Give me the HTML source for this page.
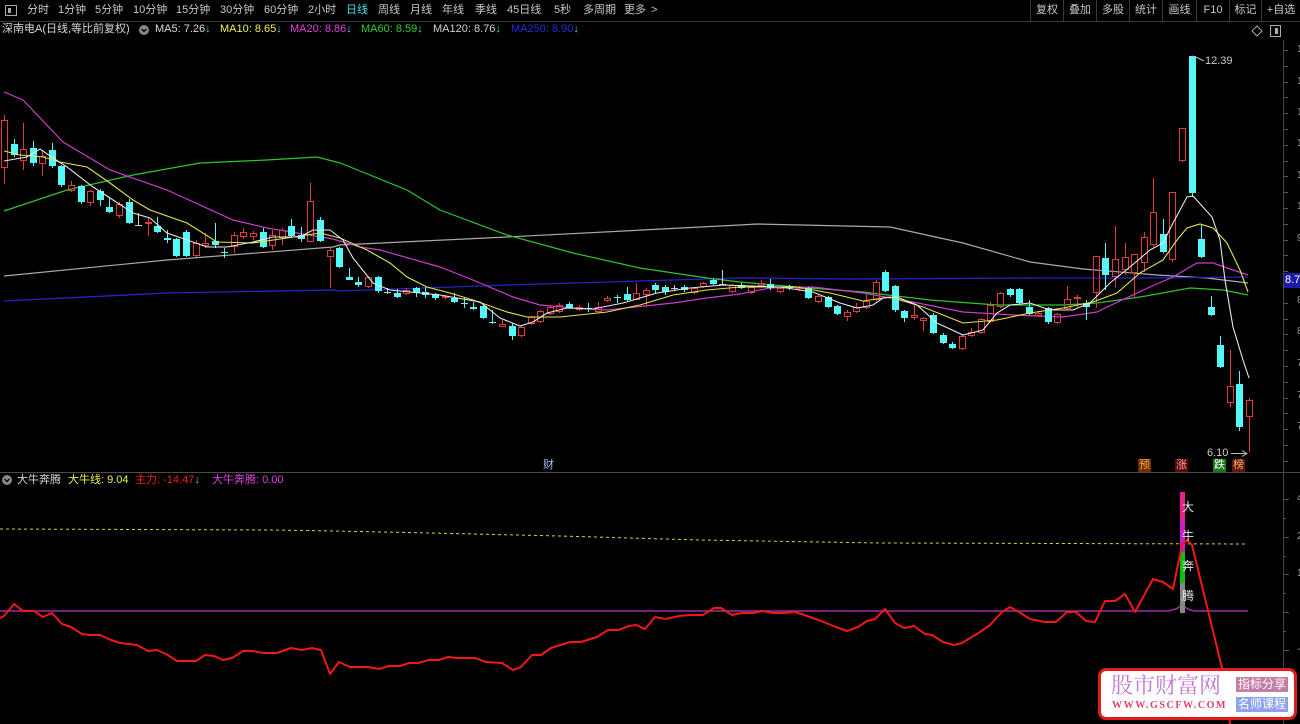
<!DOCTYPE html>
<html><head><meta charset="utf-8">
<style>
html,body{margin:0;padding:0;background:#000;}
body{width:1300px;height:724px;overflow:hidden;position:relative;font-family:"Liberation Sans","Noto Sans CJK SC",sans-serif;}
.t{position:absolute;white-space:nowrap;font-size:11px;line-height:13px;color:#c8c8c8;}
.bt{position:absolute;top:4px;font-size:11px;line-height:13px;color:#c8c8c8;text-align:center;white-space:nowrap;}
.mk{position:absolute;width:13px;height:13px;font-size:11px;line-height:13px;text-align:center;}
.ax{position:absolute;left:1297px;font-size:10px;line-height:10px;color:#999;white-space:nowrap;}
</style></head><body>
<svg id="s" width="1300" height="724" style="position:absolute;left:0;top:0" xmlns="http://www.w3.org/2000/svg">
<!-- toolbar -->
<line x1="0" y1="21.5" x2="1300" y2="21.5" stroke="#3a3a3a"/>
<rect x="5.5" y="5.5" width="11" height="10" fill="none" stroke="#aaa"/>
<rect x="8" y="8" width="3" height="5" fill="#aaa"/>
<g stroke="#3a3a3a">
<line x1="1030.5" y1="0" x2="1030.5" y2="21"/><line x1="1063.5" y1="0" x2="1063.5" y2="21"/>
<line x1="1096.5" y1="0" x2="1096.5" y2="21"/><line x1="1129.5" y1="0" x2="1129.5" y2="21"/>
<line x1="1162.5" y1="0" x2="1162.5" y2="21"/><line x1="1196.5" y1="0" x2="1196.5" y2="21"/>
<line x1="1229.5" y1="0" x2="1229.5" y2="21"/><line x1="1261.5" y1="0" x2="1261.5" y2="21"/>
</g>
<!-- legend icons -->
<circle cx="144" cy="30" r="5" fill="#888"/><path d="M141.5 29 L144 31.5 L146.5 29" stroke="#000" stroke-width="1.3" fill="none"/>
<circle cx="7" cy="480" r="5" fill="#888"/><path d="M4.5 479 L7 481.5 L9.5 479" stroke="#000" stroke-width="1.3" fill="none"/>
<path d="M1257 26 L1262 31 L1257 36 L1252 31 Z" fill="none" stroke="#aaa"/>
<rect x="1270.5" y="25.5" width="10" height="11" fill="none" stroke="#aaa"/><rect x="1275" y="28" width="3" height="6" fill="#aaa"/>
<!-- axes -->
<line x1="1283.5" y1="40" x2="1283.5" y2="724" stroke="#444"/>
<line x1="0" y1="472.5" x2="1300" y2="472.5" stroke="#4a4a4a"/>
<g id="ticks" stroke="#555"></g>
<!-- MAs -->
<polyline fill="none" stroke="#aaaaaa" stroke-width="1.2" points="4,276 167,260 333,247 340,245 507,237 740,225 757,224 890,227 963,243 1030,262 1083,269 1157,275 1207,278 1248,283"/>
<polyline fill="none" stroke="#2424c8" stroke-width="1.3" points="4,301 167,293 333,290 340,291 507,285 740,278 850,279 1040,278 1150,278 1248,277"/>
<polyline fill="none" stroke="#2fc42f" stroke-width="1.2" points="4,211 67,190 133,175 200,163 267,160 317,157 340,163 360,171 407,190 440,210 507,235 573,253 640,268 707,278 740,282 797,287 863,292 930,300 997,305 1063,305 1097,303 1140,297 1190,288 1223,290 1248,295"/>
<polyline fill="none" stroke="#cc3ccc" stroke-width="1.2" points="4,92 23,100 63,142 110,170 167,190 233,220 267,228 333,239 360,247 380,250 440,267 473,280 513,297 540,305 573,308 607,310 673,303 707,298 740,294 770,288 813,287 863,293 913,302 963,312 1013,315 1063,317 1097,312 1107,307 1150,287 1173,277 1197,263 1213,263 1233,270 1248,275"/>
<g id="candles"></g>
<polyline fill="none" stroke="#e6e64a" stroke-width="1.1" points="4,151 20,155 43,157 60,162 87,167 110,183 133,200 150,210 187,223 217,242 253,243 287,238 320,233 340,238 367,250 390,263 407,277 427,287 450,293 473,300 507,312 527,317 560,317 607,312 640,305 673,295 707,290 740,287 797,287 830,293 863,301 890,297 923,307 963,323 997,320 1030,313 1063,308 1093,302 1117,293 1140,273 1163,260 1177,240 1187,228 1200,224 1213,228 1227,243 1240,270 1248,292"/>
<polyline fill="none" stroke="#e8e8e8" stroke-width="1.1" points="4,161 27,157 40,149 53,158 67,167 93,187 110,198 133,213 150,218 167,233 187,240 207,247 227,247 253,242 273,237 300,237 313,230 330,230 343,240 353,258 373,283 390,290 440,295 480,302 500,318 520,326 533,322 547,313 567,308 593,309 623,303 657,293 690,288 723,285 780,287 813,292 840,303 857,308 873,305 883,298 897,297 917,305 937,323 963,335 983,330 997,313 1010,305 1030,303 1050,310 1073,310 1090,303 1110,283 1130,267 1150,250 1163,243 1173,223 1187,197 1193,196 1212,217 1220,240 1225,280 1233,327 1243,360 1249,378"/>
<!-- annotations -->
<polyline fill="none" stroke="#bbb" points="1192,56 1198,58 1204,61"/>
<line x1="1231" y1="453.5" x2="1246" y2="453.5" stroke="#bbb"/><path d="M1242 450.5 L1247 453.5 L1242 456.5" fill="none" stroke="#bbb"/>
<!-- indicator -->
<polyline fill="none" stroke="#d6d640" stroke-width="1" stroke-dasharray="3,3" points="0,529 270,530 335,531 430,533 560,536 700,540 880,543 1248,544"/>
<polyline fill="none" stroke="#a42aa4" stroke-width="1.5" points="0,611 1168,611 1176,609 1182,605 1188,609 1194,611 1248,611"/>
<rect x="1180" y="492" width="5" height="30" fill="#e8208c"/>
<rect x="1180" y="522" width="5" height="30" fill="#c81ec8"/>
<rect x="1180" y="552" width="5" height="31" fill="#10c010"/>
<rect x="1180" y="583" width="5" height="30" fill="#888"/>
<polyline fill="none" stroke="#f01818" stroke-width="2" stroke-linejoin="round" points="0,618 4,616 14,604 23,611 34,611 43,617 52,613 62,624 71,627 82,634 89,635 100,635 111,640 120,643 137,645 148,651 157,650 166,654 177,661 196,661 205,655 214,656 223,660 232,658 243,651 252,651 264,653 277,653 291,648 302,650 312,648 321,650 330,674 339,662 350,667 368,667 379,669 389,666 400,666 409,663 418,663 429,660 439,660 448,657 457,658 475,658 486,662 502,663 513,670 521,667 532,655 541,655 551,648 570,642 581,642 597,637 608,630 618,630 629,626 636,625 645,629 655,617 666,619 679,616 690,615 703,615 714,608 721,608 732,615 742,613 753,613 762,611 773,613 784,613 795,612 810,617 821,621 836,627 847,631 858,627 867,621 875,619 885,609 895,623 904,628 914,626 925,634 932,635 943,642 954,645 962,643 980,632 990,625 1002,612 1010,607 1019,612 1030,619 1045,622 1056,622 1067,612 1076,612 1086,621 1095,622 1105,601 1115,601 1125,594 1135,612 1153,579 1163,582 1173,589 1182,545 1187,540 1192,545 1222,668 1230,724"/>
</svg>

<!-- toolbar text -->
<div class="t" style="left:27px;top:4px">分时</div>
<div class="t" style="left:58px;top:4px">1分钟</div>
<div class="t" style="left:95px;top:4px">5分钟</div>
<div class="t" style="left:133px;top:4px">10分钟</div>
<div class="t" style="left:176px;top:4px">15分钟</div>
<div class="t" style="left:220px;top:4px">30分钟</div>
<div class="t" style="left:264px;top:4px">60分钟</div>
<div class="t" style="left:308px;top:4px">2小时</div>
<div class="t" style="left:346px;top:4px;color:#40e0e8">日线</div>
<div class="t" style="left:378px;top:4px">周线</div>
<div class="t" style="left:410px;top:4px">月线</div>
<div class="t" style="left:442px;top:4px">年线</div>
<div class="t" style="left:475px;top:4px">季线</div>
<div class="t" style="left:507px;top:4px">45日线</div>
<div class="t" style="left:554px;top:4px">5秒</div>
<div class="t" style="left:583px;top:4px">多周期</div>
<div class="t" style="left:624px;top:4px">更多</div>
<div class="t" style="left:651px;top:4px">&gt;</div>
<div class="bt" style="left:1031px;width:32px">复权</div>
<div class="bt" style="left:1064px;width:32px">叠加</div>
<div class="bt" style="left:1097px;width:32px">多股</div>
<div class="bt" style="left:1130px;width:32px">统计</div>
<div class="bt" style="left:1163px;width:33px">画线</div>
<div class="bt" style="left:1197px;width:32px">F10</div>
<div class="bt" style="left:1230px;width:31px">标记</div>
<div class="bt" style="left:1262px;width:38px">+自选</div>

<!-- legend row -->
<div class="t" style="left:2px;top:23px;color:#d8d8d8">深南电A(日线,等比前复权)</div>
<div class="t" style="left:155px;top:23px;color:#dcdcdc">MA5: 7.26<span style="color:#40e0f0">↓</span></div>
<div class="t" style="left:220px;top:23px;color:#f0f050">MA10: 8.65<span style="color:#40e0f0">↓</span></div>
<div class="t" style="left:290px;top:23px;color:#e040e0">MA20: 8.86<span style="color:#40e0f0">↓</span></div>
<div class="t" style="left:361px;top:23px;color:#30d030">MA60: 8.59<span style="color:#40e0f0">↓</span></div>
<div class="t" style="left:433px;top:23px;color:#d0d0d0">MA120: 8.76<span style="color:#40e0f0">↓</span></div>
<div class="t" style="left:511px;top:23px;color:#2828d8">MA250: 8.90<span style="color:#40e0f0">↓</span></div>

<!-- price annotations -->
<div class="t" style="left:1205px;top:55px;color:#ccc">12.39</div>
<div class="t" style="left:1207px;top:447px;color:#ccc">6.10</div>
<div style="position:absolute;left:1284px;top:273px;width:16px;height:15px;background:#1c1ca8;color:#fff;font-size:11px;line-height:15px;padding-left:1px;overflow:hidden;white-space:nowrap">8.7</div>

<!-- axis label fragments -->
<div class="ax" style="top:45px">12.5</div>
<div class="ax" style="top:77px">11.9</div>
<div class="ax" style="top:108px">11.4</div>
<div class="ax" style="top:139px">10.9</div>
<div class="ax" style="top:171px">10.4</div>
<div class="ax" style="top:202px">10.0</div>
<div class="ax" style="top:234px">9.55</div>
<div class="ax" style="top:296px">8.71</div>
<div class="ax" style="top:327px">8.32</div>
<div class="ax" style="top:359px">7.94</div>
<div class="ax" style="top:391px">7.58</div>
<div class="ax" style="top:422px">7.24</div>
<div class="ax" style="top:494px">40.0</div>
<div class="ax" style="top:532px">20.0</div>
<div class="ax" style="top:569px">10.0</div>
<div class="ax" style="top:645px">-10.0</div>

<!-- markers -->
<div class="mk" style="left:542px;top:459px;color:#a8c0ff">财</div>
<div class="mk" style="left:1138px;top:459px;background:#6a3000;color:#ffa040">预</div>
<div class="mk" style="left:1175px;top:459px;background:#5a0c0c;color:#ff9c9c">涨</div>
<div class="mk" style="left:1213px;top:459px;background:#187818;color:#ffffff">跌</div>
<div class="mk" style="left:1232px;top:459px;background:#5a1a0a;color:#ffb070">榜</div>

<!-- indicator header -->
<div class="t" style="left:17px;top:474px;color:#d8d8d8">大牛奔腾</div>
<div class="t" style="left:68px;top:474px;color:#f0f050">大牛线: 9.04</div>
<div class="t" style="left:135px;top:474px;color:#f02020">主力: -14.47<span style="color:#40e0f0">↓</span></div>
<div class="t" style="left:212px;top:474px;color:#e040e0">大牛奔腾: 0.00</div>

<!-- bar text -->
<div class="t" style="left:1182px;top:501px;font-size:12px;color:#e8e8e8">大</div>
<div class="t" style="left:1182px;top:530px;font-size:12px;color:#e8e8e8">牛</div>
<div class="t" style="left:1182px;top:560px;font-size:12px;color:#e8e8e8">奔</div>
<div class="t" style="left:1182px;top:590px;font-size:12px;color:#e8e8e8">腾</div>

<!-- watermark -->
<div style="position:absolute;left:1098px;top:668px;width:193px;height:46px;background:#fff;border:3px solid #e01c1c;border-radius:8px"></div>
<div style="position:absolute;left:1111px;top:673px;font-family:'Liberation Serif','Noto Serif CJK SC',serif;font-size:22px;line-height:26px;color:#c27ad0;white-space:nowrap">股市财富网</div>
<div style="position:absolute;left:1112px;top:700px;font-family:'Liberation Serif',serif;font-weight:bold;font-size:10px;line-height:12px;letter-spacing:1.6px;color:#e0406a;white-space:nowrap">WWW.GSCFW.COM</div>
<div style="position:absolute;left:1236px;top:677px;width:52px;height:15px;background:#c47ea4;color:#fff;font-size:12px;line-height:15px;text-align:center;white-space:nowrap">指标分享</div>
<div style="position:absolute;left:1236px;top:697px;width:52px;height:15px;background:#8ca2ee;color:#fff;font-size:12px;line-height:15px;text-align:center;white-space:nowrap">名师课程</div>

<script>
(function(){
var C=[
['r',120,168,115,184],['c',144,155,139,157],['r',149,161,123,170],['c',148,163,141,166],['r',156,164,150,176],
['c',150,166,143,168],['c',166,185,165,187],['r',185,191,181,192],['c',186,202,185,204],['r',191,203,190,206],
['c',191,200,189,206],['c',207,212,198,213],['r',204,216,202,218],['c',202,223,199,224],['g',225,226,213,226],
['r',222,224,217,236],['c',226,232,217,233],['c',238,240,230,243],['c',239,256,238,257],['c',232,256,230,257],
['r',243,256,240,257],['r',243,246,233,248],['c',241,245,223,248],['c',252,253,248,258],['r',235,247,232,253],
['r',232,237,228,239],['r',233,237,231,240],['c',232,247,228,248],['r',235,246,230,250],['r',230,238,228,245],
['c',226,236,219,237],['c',235,239,227,242],['r',201,242,183,242],['c',220,241,217,242],['r',250,257,248,288],
['c',248,267,247,268],['c',277,280,268,280],['c',282,285,277,287],['r',277,287,276,288],['c',277,291,276,293],
['g',292,293,288,294],['c',293,297,289,298],['r',290,294,288,295],['c',288,293,287,297],['c',292,295,287,298],
['c',294,298,293,300],['r',296,298,295,300],['c',298,302,293,303],['c',303,304,298,308],['c',307,309,302,310],
['c',306,318,305,319],['c',322,323,310,324],['r',324,327,320,327],['c',326,336,323,340],['r',327,336,326,337],
['r',317,324,316,325],['r',311,322,310,323],['r',307,314,305,315],['r',305,312,303,313],['c',304,308,302,309],
['r',307,310,305,311],['c',308,309,303,312],['r',307,312,302,313],['r',298,301,296,302],['c',297,298,295,303],
['c',294,300,287,301],['r',293,300,283,300],['r',290,295,288,307],['c',285,290,283,293],['c',287,292,285,295],
['g',288,289,285,291],['c',287,290,285,292],['r',288,293,287,294],['r',283,287,282,288],['c',280,284,279,285],
['g',284,285,270,285],['r',285,292,284,293],['c',285,288,283,289],['r',287,293,286,294],['r',283,286,280,287],
['c',284,288,279,290],['r',288,292,287,293],['c',286,288,285,290],['r',287,289,286,291],['c',288,298,287,299],
['r',296,302,295,303],['c',297,307,296,308],['c',306,314,305,315],['r',312,317,310,321],['r',307,312,303,313],
['r',301,308,293,309],['r',282,300,280,301],['c',272,291,270,292],['c',286,310,285,312],['c',311,318,310,322],
['r',315,318,303,320],['r',318,321,317,331],['c',315,333,313,334],['c',335,343,333,344],['c',344,348,342,349],
['r',336,349,335,350],['r',332,336,328,337],['r',319,333,318,334],['r',305,322,302,323],['r',293,307,292,308],
['c',289,295,288,297],['c',289,303,288,304],['c',307,314,300,315],['r',313,316,311,317],['c',308,322,307,324],
['r',314,323,313,324],['r',299,309,286,310],['r',297,299,295,307],['c',303,307,300,320],['r',256,293,256,308],
['c',258,275,243,290],['r',259,277,226,287],['r',257,270,243,275],['r',254,273,254,298],['r',237,263,232,272],
['r',212,245,178,247],['c',234,252,219,253],['r',192,260,192,262],['r',128,161,128,162],['c',56,193,56,197],
['c',239,257,225,258],['c',307,315,296,316],['c',345,367,336,368],['r',386,403,350,407],['c',384,427,371,431],
['r',400,417,398,452]];
var s='',RED='#e03c3c',CY='#54f8f8',GR='#cfcfcf';
for(var i=0;i<C.length;i++){
 var d=C[i],x=Math.round(4+i*9.577),t=d[0],bt=d[1],bb=d[2],wt=d[3],wb=d[4];
 if(bb-bt<1)bb=bt+1;
 if(t==='r'){
  if(wt<bt)s+='<line x1="'+(x+0.5)+'" y1="'+wt+'" x2="'+(x+0.5)+'" y2="'+bt+'" stroke="'+RED+'"/>';
  if(wb>bb)s+='<line x1="'+(x+0.5)+'" y1="'+bb+'" x2="'+(x+0.5)+'" y2="'+wb+'" stroke="'+RED+'"/>';
  s+='<rect x="'+(x-2.5)+'" y="'+(bt+0.5)+'" width="6" height="'+Math.max(bb-bt-1,1)+'" fill="none" stroke="'+RED+'"/>';
 }else{
  var col=t==='c'?CY:GR;
  s+='<line x1="'+(x+0.5)+'" y1="'+wt+'" x2="'+(x+0.5)+'" y2="'+wb+'" stroke="'+col+'"/>';
  s+='<rect x="'+(x-3)+'" y="'+bt+'" width="7" height="'+(bb-bt)+'" fill="'+col+'"/>';
 }
}
document.getElementById('candles').innerHTML=s;
var tk='';
for(var y=50;y<465;y+=15.8){var yy=Math.round(y)+0.5;tk+='<line x1="1283" y1="'+yy+'" x2="'+(1288)+'" y2="'+yy+'"/>';}
var iy=[499,518,537,556,574,593,612,631,650,669,687,706];
for(var k=0;k<iy.length;k++){tk+='<line x1="1283" y1="'+(iy[k]+0.5)+'" x2="'+(k%2==0?1289:1286)+'" y2="'+(iy[k]+0.5)+'"/>';}
document.getElementById('ticks').innerHTML=tk;
})();
</script>
</body></html>
